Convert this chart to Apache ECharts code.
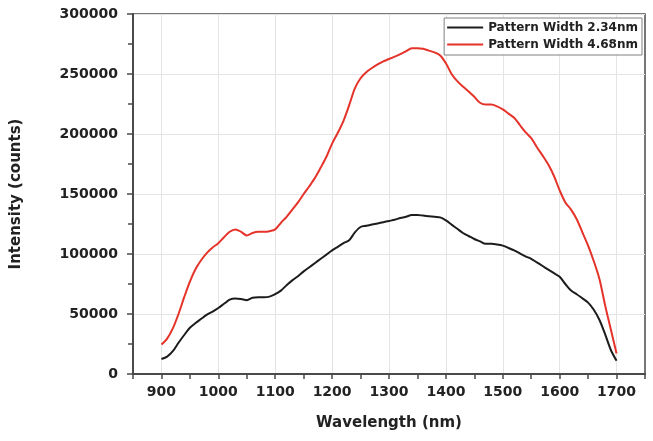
<!DOCTYPE html>
<html>
<head>
<meta charset="utf-8">
<script src="https://cdn.jsdelivr.net/npm/echarts@6/dist/echarts.min.js"></script>
<style>
  html, body { margin: 0; padding: 0; background: #ffffff; }
  #chart { width: 653px; height: 441px; }
</style>
</head>
<body>
<div id="chart"></div>
<script>
// Emission spectra of two pattern widths, sampled every 10 nm
const wavelengths = [];
for (let w = 900; w <= 1700; w += 10) wavelengths.push(w);

const seriesNames = ['Pattern Width 2.34nm', 'Pattern Width 4.68nm'];

const width234 = [
  12500, 14500, 19000, 26000, 32500, 38500, 42500, 46000, 49500, 52000,
  55000, 58500, 62000, 63000, 62500, 61500, 63500, 64000, 64000, 64500,
  66500, 69500, 74000, 78000, 81500, 85500, 89000, 92500, 96000, 99500,
  103000, 106000, 109000, 111500, 118000, 122500, 123500, 124500, 125500, 126500,
  127500, 128500, 130000, 131000, 132500, 132500, 132000, 131500, 131000, 130500,
  128000, 124500, 121000, 117500, 115000, 112500, 110500, 108500, 108500, 108000,
  107000, 105000, 103000, 100500, 98000, 96000, 93000, 90000, 87000, 84000,
  81000, 75000, 69500, 66500, 63000, 59500, 53500, 45000, 33000, 20000,
  11000
];

const width468 = [
  24500, 29500, 38000, 50000, 64000, 77000, 87500, 95000, 101000, 105500,
  109000, 114000, 118500, 120500, 118500, 115500, 117500, 118500, 118500, 119000,
  120500, 126000, 131000, 137000, 143000, 150000, 156500, 163500, 172000, 181000,
  192000, 201000, 211000, 224000, 238000, 246500, 251500, 255000, 258000, 260500,
  262500, 264500, 266500, 269000, 271500, 271500, 271000, 269500, 268000, 265500,
  259000, 250000, 244000, 239500, 235500, 231000, 226000, 224500, 224500, 223000,
  220500, 217000, 213500, 207500, 201500, 196500, 189000, 182000, 174500, 165000,
  153000, 143000, 137000, 129000, 118000, 107000, 94000, 79000, 57000, 37000,
  17000
];

const xRange = [850, 1750];
const yRange = [0, 300000];

const FONT = '"DejaVu Sans", sans-serif';
const AXIS_COLOR = '#4a4a4a';
const GRID_COLOR = '#e4e4e4';

function pairs(values) {
  return wavelengths.map((w, i) => [w, values[i]]);
}

const chart = echarts.init(document.getElementById('chart'), null, { renderer: 'canvas' });

chart.setOption({
  animation: false,
  backgroundColor: '#ffffff',
  grid: {
    left: 133, right: 8, top: 14, bottom: 67,
    show: true,
    borderColor: AXIS_COLOR,
    borderWidth: 1.5,
    backgroundColor: 'transparent'
  },
  legend: {
    orient: 'vertical',
    right: 11,
    top: 18,
    data: seriesNames,
    icon: 'rect',
    itemWidth: 36,
    itemHeight: 2,
    itemGap: 4,
    padding: [3, 4, 4, 3],
    backgroundColor: '#ffffff',
    borderColor: '#808080',
    borderWidth: 1,
    textStyle: { fontFamily: FONT, fontWeight: 'bold', fontSize: 12, lineHeight: 13, color: '#222' }
  },
  xAxis: {
    type: 'value',
    min: xRange[0],
    max: xRange[1],
    interval: 50,
    name: 'Wavelength (nm)',
    nameLocation: 'middle',
    nameGap: 42,
    nameTextStyle: { fontFamily: FONT, fontWeight: 'bold', fontSize: 15, color: '#222' },
    axisLine: { show: true, onZero: false, lineStyle: { color: AXIS_COLOR, width: 2 } },
    axisTick: { show: true, inside: false, length: 5, lineStyle: { color: AXIS_COLOR, width: 1.5 } },
    axisLabel: {
      margin: 11,
      fontFamily: FONT, fontWeight: 'bold', fontSize: 14, color: '#222',
      showMinLabel: true, showMaxLabel: true,
      formatter: v => (v % 100 === 0 && v >= 900 && v <= 1700) ? String(v) : ''
    },
    splitLine: {
      show: true,
      showMinLine: true,
      showMaxLine: true,
      // every other line (the hundreds) is drawn
      lineStyle: { color: ['rgba(0,0,0,0)', GRID_COLOR], width: 1 }
    }
  },
  yAxis: {
    type: 'value',
    min: yRange[0],
    max: yRange[1],
    interval: 50000,
    name: 'Intensity (counts)',
    nameLocation: 'middle',
    nameGap: 109,
    nameRotate: 90,
    nameTextStyle: { fontFamily: FONT, fontWeight: 'bold', fontSize: 15, color: '#222' },
    axisLine: { show: true, lineStyle: { color: AXIS_COLOR, width: 2 } },
    axisTick: { show: true, inside: false, length: 6, lineStyle: { color: AXIS_COLOR, width: 1.5 } },
    minorTick: { show: true, splitNumber: 2, length: 5, lineStyle: { color: AXIS_COLOR, width: 1.5 } },
    axisLabel: {
      margin: 15, fontFamily: FONT, fontWeight: 'bold', fontSize: 14, color: '#222',
      formatter: v => String(v)
    },
    splitLine: { show: true, lineStyle: { color: GRID_COLOR, width: 1 } }
  },
  series: [
    {
      name: seriesNames[0],
      type: 'line',
      data: pairs(width234),
      showSymbol: false,
      smooth: 0.3,
      lineStyle: { color: '#1c1c1c', width: 2 },
      itemStyle: { color: '#1c1c1c' }
    },
    {
      name: seriesNames[1],
      type: 'line',
      data: pairs(width468),
      showSymbol: false,
      smooth: 0.3,
      lineStyle: { color: '#e5332a', width: 2 },
      itemStyle: { color: '#e5332a' }
    }
  ]
});
</script>
</body>
</html>
